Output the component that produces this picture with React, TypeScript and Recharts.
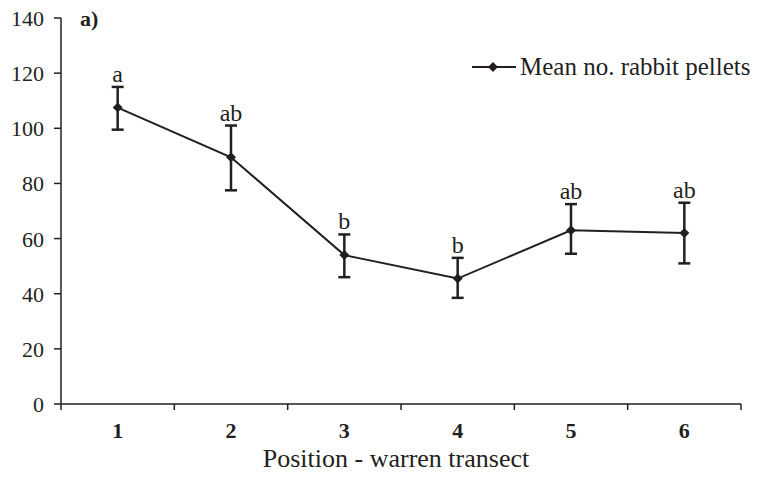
import React from 'react';
import {
  LineChart,
  Line,
  XAxis,
  YAxis,
  ErrorBar,
  Legend,
  LabelList,
} from 'recharts';

const positions = [1, 2, 3, 4, 5, 6];
const means = [107.5, 89.5, 54, 45.5, 63, 62];
const upper = [115, 101, 61.5, 53, 72.5, 73];
const lower = [99.5, 77.5, 46, 38.5, 54.5, 51];
const letters = ['a', 'ab', 'b', 'b', 'ab', 'ab'];
const yTicks = [0, 20, 40, 60, 80, 100, 120, 140];
const xTicks = [0.5, 1, 1.5, 2, 2.5, 3, 3.5, 4, 4.5, 5, 5.5, 6, 6.5];

const INK = '#231f20';
const FONT = 'Liberation Serif';

const data = positions.map((pos, i) => ({
  pos,
  mean: means[i],
  top: upper[i],
  letter: letters[i],
  err: [means[i] - lower[i], upper[i] - means[i]],
}));

const Diamond = (props: any) => {
  const { cx, cy } = props;
  if (cx == null || cy == null) return null;
  const r = 5;
  return (
    <path
      d={`M${cx},${cy - r} L${cx + r},${cy} L${cx},${cy + r} L${cx - r},${cy} Z`}
      fill={INK}
    />
  );
};

const XTick = (props: any) => {
  const { x, y, payload } = props;
  if (Number.isInteger(payload.value)) {
    return (
      <text x={x} y={y + 34} textAnchor="middle" fontFamily={FONT} fontSize="22px" fontWeight="bold" fill={INK}>
        {payload.value}
      </text>
    );
  }
  return <line x1={x} y1={y} x2={x} y2={y + 6} stroke={INK} strokeWidth={1.5} />;
};

const YTick = (props: any) => {
  const { x, y, payload } = props;
  return (
    <text x={x} y={y + 8} textAnchor="end" fontFamily={FONT} fontSize="22px" fill={INK}>
      {payload.value}
    </text>
  );
};

const LetterLabel = (props: any) => {
  const { x, y, value } = props;
  return (
    <text x={x} y={y - 5} textAnchor="middle" fontFamily={FONT} fontSize="24px" fill={INK}>
      {value}
    </text>
  );
};

const LegendBox = () => (
  <div style={{ display: 'flex', alignItems: 'center', fontFamily: FONT, fontSize: 25, color: INK }}>
    <svg width={44} height={12} style={{ marginRight: 4 }}>
      <line x1={0} y1={6} x2={44} y2={6} stroke={INK} strokeWidth={2} />
      <path d="M21,1 L26,6 L21,11 L16,6 Z" fill={INK} />
    </svg>
    <span>Mean no. rabbit pellets</span>
  </div>
);

const XTitle = (props: any) => {
  const { viewBox } = props;
  return (
    <text x={viewBox.x + viewBox.width / 2 - 5} y={467} textAnchor="middle" fontFamily={FONT} fontSize="26px" fill={INK}>
      Position - warren transect
    </text>
  );
};

export default function App() {
  return (
    <div style={{ position: 'relative', width: 757, height: 483, background: '#fff', fontFamily: FONT }}>
      <style>{'body{margin:0}'}</style>
      <LineChart
        width={757}
        height={483}
        data={data}
        margin={{ top: 18, right: 16, left: 0, bottom: 0 }}
      >
        <XAxis
          dataKey="pos"
          type="number"
          domain={[0.5, 6.5]}
          ticks={xTicks}
          interval={0}
          tickLine={false}
          tickSize={0}
          tickMargin={0}
          tick={<XTick />}
          axisLine={{ stroke: INK, strokeWidth: 1.5 }}
          height={79}
          label={<XTitle />}
        />
        <YAxis
          domain={[0, 140]}
          ticks={yTicks}
          interval={0}
          width={61}
          tickSize={7}
          tickMargin={10}
          tickLine={{ stroke: INK, strokeWidth: 1.5 }}
          axisLine={{ stroke: INK, strokeWidth: 1.5 }}
          tick={<YTick />}
        />
        <Legend
          layout="vertical"
          align="center"
          verticalAlign="middle"
          content={<LegendBox />}
          wrapperStyle={{ left: 472, top: 53, width: 290 }}
        />
        <Line
          dataKey="top"
          stroke="none"
          dot={false}
          activeDot={false}
          legendType="none"
          isAnimationActive={false}
        >
          <LabelList dataKey="letter" content={<LetterLabel />} />
        </Line>
        <Line
          dataKey="mean"
          stroke={INK}
          strokeWidth={2}
          dot={<Diamond />}
          activeDot={false}
          isAnimationActive={false}
        >
          <ErrorBar dataKey="err" direction="y" width={6} stroke={INK} strokeWidth={2.5} />
        </Line>
      </LineChart>
      <div
        style={{
          position: 'absolute',
          left: 80,
          top: 6,
          fontWeight: 'bold',
          fontSize: 22,
          color: INK,
        }}
      >
        a)
      </div>
    </div>
  );
}
